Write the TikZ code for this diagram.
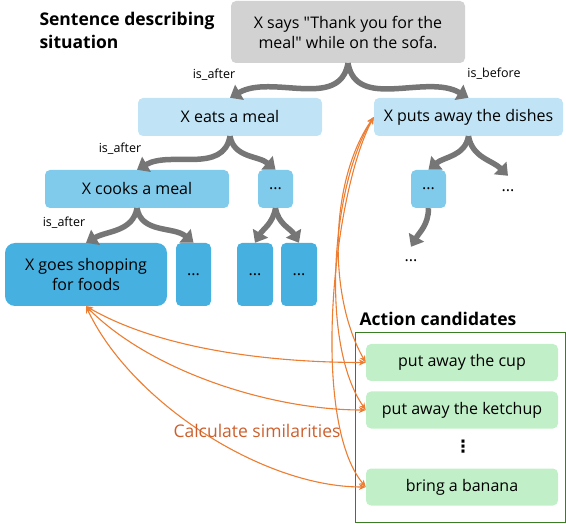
\documentclass[tikz,border=0pt]{standalone}
\usepackage{fontspec}
\setmainfont{Open Sans}[Ligatures=TeXOff]
\newfontfamily\symfont{DejaVu Sans}
\usetikzlibrary{arrows.meta, positioning}
\definecolor{boxgray}{RGB}{210,210,210}
\definecolor{blueA}{RGB}{192,228,245}
\definecolor{blueB}{RGB}{128,203,236}
\definecolor{blueC}{RGB}{70,176,225}
\definecolor{candgreen}{RGB}{193,240,200}
\definecolor{framegreen}{RGB}{58,125,34}
\definecolor{arrowgray}{RGB}{118,118,118}
\definecolor{simorange}{RGB}{237,125,49}
\definecolor{textorange}{RGB}{205,95,45}
\tikzset{
x=1pt, y=1pt, % one unit is one pixel of the original picture
box/.style={rounded corners=5pt, inner sep=0pt, align=center, font=\fontsize{16}{20}\selectfont}, % every event box
sentbox/.style={box, fill=boxgray, minimum width=234pt, minimum height=62pt}, % the sentence
first/.style={box, fill=blueA, minimum height=38pt}, % first level
second/.style={box, fill=blueB, minimum height=38pt}, % second level
third/.style={box, fill=blueC, minimum height=63pt}, % third level
cand/.style={box, fill=candgreen, minimum width=192pt, minimum height=37pt}, % action candidates
rel/.style={font=\fontsize{12.5}{14}\selectfont, inner sep=0pt}, % relation labels
head/.style={font=\bfseries\fontsize{17.5}{23}\selectfont, inner sep=0pt, align=left}, % headings
branch/.style={draw=arrowgray, line width=5.5pt, -{Triangle[length=11pt, width=17pt]}}, % gray tree arrows
sim/.style={draw=simorange, line width=1.1pt, {Stealth[length=7pt, width=6pt]}-{Stealth[length=7pt, width=6pt]}}, % similarity arrows
}
\begin{document}
\begin{tikzpicture}
\useasboundingbox (0,0) rectangle (566,-524);
% headings
\node[head] (title) at (127,-30) {Sentence describing\\situation};
\node[head] (candtitle) at (438,-319) {Action candidates};
% tree of events
\node[sentbox] (sent) at (348,-32) {X says "Thank you for the\\meal" while on the sofa.};
\node[first, minimum width=184pt] (eat) at (230,-117) {X eats a meal};
\node[first, minimum width=189pt] (put) at (468.5,-117) {X puts away the dishes};
\node[second, minimum width=184pt] (cook) at (137,-189) {X cooks a meal};
\node[second, minimum width=35pt] (dotsA) at (275.5,-189) {...};
\node[second, minimum width=35pt] (dotsB) at (428.5,-189) {...};
\node[box, minimum height=30pt] (dotsC) at (508,-191) {...};
\node[third, rounded corners=10pt, minimum width=162pt] (shop) at (86,-274.5) {X goes shopping\\for foods};
\node[third, minimum width=35pt] (dotsD) at (193.5,-274.5) {...};
\node[third, minimum width=36pt] (dotsE) at (255,-274.5) {...};
\node[third, minimum width=36pt] (dotsF) at (299,-274.5) {...};
\node[box, minimum height=28pt] (dotsG) at (411,-261) {...};
\node[rel] (rel1) at (214,-75) {is\_after};
\node[rel] (rel2) at (494,-74) {is\_before};
\node[rel] (rel3) at (120,-149) {is\_after};
\node[rel] (rel4) at (64,-223) {is\_after};
\draw[branch] (sent.south) to[out=-100, in=30] (eat.north);
\draw[branch] (sent.south) to[out=-80, in=150] (put.north);
\draw[branch] (eat.south) to[out=-100, in=30] (cook.north);
\draw[branch] (eat.south) to[out=-80, in=140] (dotsA.north);
\draw[branch] (cook.south) to[out=-100, in=30] (shop.north);
\draw[branch] (cook.south) to[out=-80, in=140] (dotsD.north);
\draw[branch] (dotsA.south) to[out=-100, in=60] (dotsE.north);
\draw[branch] (dotsA.south) to[out=-80, in=120] (dotsF.north);
\draw[branch] (put.south) to[out=-100, in=40] (dotsB.north);
\draw[branch] (put.south) to[out=-80, in=135] (dotsC.north);
\draw[branch] (dotsB.south) to[out=-90, in=60] (dotsG.north);
% candidates
\draw[framegreen, line width=1pt] (355.5,-333) rectangle (565.5,-522);
\node[cand] (cup) at (462,-362.5) {put away the cup};
\node[cand] (ketchup) at (462,-410) {put away the ketchup};
\node[font=\symfont\bfseries\fontsize{17}{17}\selectfont, inner sep=0pt] (vdots) at (463,-447) {⋮};
\node[cand] (banana) at (462,-487) {bring a banana};
% similarities
\draw[sim] (shop.south) to[out=-30, in=180, looseness=0.8] (cup.west);
\draw[sim] (shop.south) to[out=-45, in=180, looseness=0.8] (ketchup.west);
\draw[sim] (shop.south) to[out=-65, in=180, looseness=0.8] (banana.west);
\draw[sim] (put.west) to[out=235, in=120, looseness=0.8] (cup.west);
\draw[sim] (put.west) to[out=238, in=125, looseness=0.7] (ketchup.west);
\draw[sim] (put.west) to[out=242, in=130, looseness=0.6] (banana.west);
\node[text=textorange, font=\fontsize{17.5}{20}\selectfont, inner sep=0pt] (calc) at (257,-431) {Calculate similarities};
\end{tikzpicture}
\end{document}
